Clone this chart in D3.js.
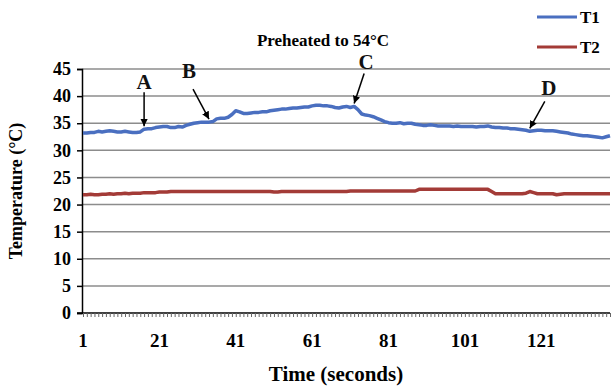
<!DOCTYPE html>
<html>
<head>
<meta charset="utf-8">
<script src="https://cdn.jsdelivr.net/npm/d3@7"></script>
<style>
  body { margin: 0; background: #fff; }
  text { font-family: "Liberation Serif", "Times New Roman", serif; font-weight: bold; }
</style>
</head>
<body>
<svg id="chart" width="612" height="390"></svg>
<script>
// temperature readings, one per second (t = 1..139)
var t1 = [
  33.2,33.2,33.3,33.3,33.5,33.4,33.5,33.6,33.5,33.4,
  33.4,33.5,33.4,33.3,33.3,33.4,33.9,34.0,34.0,34.2,
  34.3,34.4,34.4,34.2,34.2,34.4,34.3,34.6,34.8,35.0,
  35.1,35.2,35.2,35.2,35.3,35.8,35.9,35.9,36.1,36.6,
  37.3,37.1,36.8,36.8,36.9,37.0,37.0,37.1,37.1,37.3,
  37.4,37.5,37.6,37.6,37.7,37.8,37.8,37.9,38.0,38.0,
  38.2,38.3,38.3,38.2,38.2,38.1,37.9,37.8,38.0,38.1,
  37.9,38.1,37.5,36.7,36.5,36.4,36.2,35.9,35.6,35.3,
  35.1,35.0,35.0,35.1,34.9,35.0,35.0,34.8,34.7,34.6,
  34.6,34.7,34.6,34.5,34.5,34.5,34.5,34.4,34.5,34.4,
  34.4,34.4,34.4,34.3,34.4,34.4,34.5,34.3,34.2,34.2,
  34.1,34.1,34.0,34.0,33.9,33.8,33.7,33.5,33.6,33.7,
  33.7,33.6,33.6,33.6,33.5,33.4,33.3,33.2,33.0,32.9,
  32.8,32.7,32.7,32.6,32.5,32.4,32.3,32.5,32.7
];
var t2 = [
  21.8,21.8,21.9,21.8,21.8,21.9,21.9,22.0,21.9,22.0,
  22.0,22.1,22.0,22.1,22.1,22.1,22.2,22.2,22.2,22.2,
  22.3,22.3,22.3,22.4,22.4,22.4,22.4,22.4,22.4,22.4,
  22.4,22.4,22.4,22.4,22.4,22.4,22.4,22.4,22.4,22.4,
  22.4,22.4,22.4,22.4,22.4,22.4,22.4,22.4,22.4,22.4,
  22.3,22.3,22.4,22.4,22.4,22.4,22.4,22.4,22.4,22.4,
  22.4,22.4,22.4,22.4,22.4,22.4,22.4,22.4,22.4,22.4,
  22.5,22.5,22.5,22.5,22.5,22.5,22.5,22.5,22.5,22.5,
  22.5,22.5,22.5,22.5,22.5,22.5,22.5,22.5,22.8,22.8,
  22.8,22.8,22.8,22.8,22.8,22.8,22.8,22.8,22.8,22.8,
  22.8,22.8,22.8,22.8,22.8,22.8,22.8,22.4,22.0,22.0,
  22.0,22.0,22.0,22.0,22.0,22.0,22.1,22.4,22.2,22.0,
  22.0,22.0,22.0,22.0,21.8,21.9,22.0,22.0,22.0,22.0,
  22.0,22.0,22.0,22.0,22.0,22.0,22.0,22.0,22.0
];
var seriesNames = ["T1", "T2"];
var seriesColors = ["#4a6fc0", "#a33b37"];
var yTicks = [0, 5, 10, 15, 20, 25, 30, 35, 40, 45];
var xLabels = [1, 21, 41, 61, 81, 101, 121];
// annotations: letter, time index it points at
var marks = [
  { label: "A", t: 17 },
  { label: "B", t: 34 },
  { label: "C", t: 72 },
  { label: "D", t: 118 }
];

var svg = d3.select("#chart");
var plotLeft = 82, plotRight = 610, plotTop = 69, plotBottom = 313;

var times = t1.map(function (d, i) { return i + 1; });
var xScale = d3.scaleLinear().domain([1, times.length]).range([plotLeft + 1, plotRight]);
var yScale = d3.scaleLinear().domain([0, 45]).range([plotBottom, plotTop]);

// gridlines
svg.append("g").selectAll("line").data(yTicks.slice(1)).enter().append("line")
  .attr("x1", plotLeft).attr("x2", plotRight)
  .attr("y1", function (d) { return yScale(d); })
  .attr("y2", function (d) { return yScale(d); })
  .attr("stroke", "#8c8c8c").attr("stroke-width", 1.5);

// y axis
var yAxis = d3.axisLeft(yScale).tickValues(yTicks).tickSize(5).tickPadding(6);
var gy = svg.append("g").attr("transform", "translate(" + plotLeft + ",0)").call(yAxis)
  .attr("font-family", null).attr("font-size", null);
gy.select(".domain").attr("stroke", "#000").attr("stroke-width", 1.5);
gy.selectAll(".tick line").attr("stroke", "#000").attr("stroke-width", 1.5);
gy.selectAll("text").attr("font-size", 18).attr("fill", "#000");

// x axis, a small tick for every second
var xAxis = d3.axisBottom(xScale).tickValues(times).tickSize(4).tickFormat("");
var gx = svg.append("g").attr("transform", "translate(0," + plotBottom + ")").call(xAxis);
gx.select(".domain").attr("stroke", "#000").attr("stroke-width", 1.5)
  .attr("d", "M" + (plotLeft - 5) + ",0H" + plotRight);
gx.selectAll(".tick line").attr("stroke", "#666").attr("stroke-width", 1);

svg.append("g").selectAll("text").data(xLabels).enter().append("text")
  .attr("x", function (d) { return xScale(d); })
  .attr("y", 347)
  .attr("text-anchor", "middle")
  .attr("font-size", 19)
  .text(function (d) { return d; });

// lines
var lineFun = d3.line()
  .x(function (d, i) { return xScale(i + 1); })
  .y(function (d) { return yScale(d); });
[t1, t2].forEach(function (s, k) {
  svg.append("path")
    .attr("d", lineFun(s))
    .attr("fill", "none")
    .attr("stroke", seriesColors[k])
    .attr("stroke-width", 3.5)
    .attr("stroke-linejoin", "round");
});

// arrows
var defs = svg.append("defs");
defs.append("marker").attr("id", "arrow")
  .attr("viewBox", "0 0 10 10").attr("refX", 10).attr("refY", 5)
  .attr("markerWidth", 5).attr("markerHeight", 5).attr("orient", "auto")
  .append("path").attr("d", "M0,0L10,5L0,10z").attr("fill", "#000");

var offsets = { A: [0, -34, 0, -37], B: [-16, -30, -20, -41], C: [10, -30, 12, -34], D: [15, -27, 19, -33] };
marks.forEach(function (m) {
  var px = xScale(m.t), py = yScale(t1[m.t - 1]) - 3;
  var o = offsets[m.label];
  svg.append("line")
    .attr("x1", px + o[0]).attr("y1", py + o[1])
    .attr("x2", px).attr("y2", py)
    .attr("stroke", "#000").attr("stroke-width", 1.5)
    .attr("marker-end", "url(#arrow)");
  svg.append("text")
    .attr("x", px + o[2]).attr("y", py + o[3])
    .attr("text-anchor", "middle")
    .attr("font-size", 21)
    .attr("fill", "#111")
    .text(m.label);
});

// title
svg.append("text").attr("x", 323).attr("y", 46).attr("text-anchor", "middle")
  .attr("font-size", 17).text("Preheated to 54°C");

// axis titles
svg.append("text").attr("x", 336).attr("y", 381).attr("text-anchor", "middle")
  .attr("font-size", 21).text("Time (seconds)");
svg.append("text").attr("transform", "translate(22,191) rotate(-90)")
  .attr("text-anchor", "middle").attr("font-size", 18).text("Temperature (°C)");

// legend
seriesNames.forEach(function (n, k) {
  var ly = 17 + k * 30;
  svg.append("line").attr("x1", 537).attr("x2", 577).attr("y1", ly).attr("y2", ly)
    .attr("stroke", seriesColors[k]).attr("stroke-width", 3);
  svg.append("text").attr("x", 580).attr("y", ly + 6).attr("font-size", 17).text(n);
});
</script>
</body>
</html>
